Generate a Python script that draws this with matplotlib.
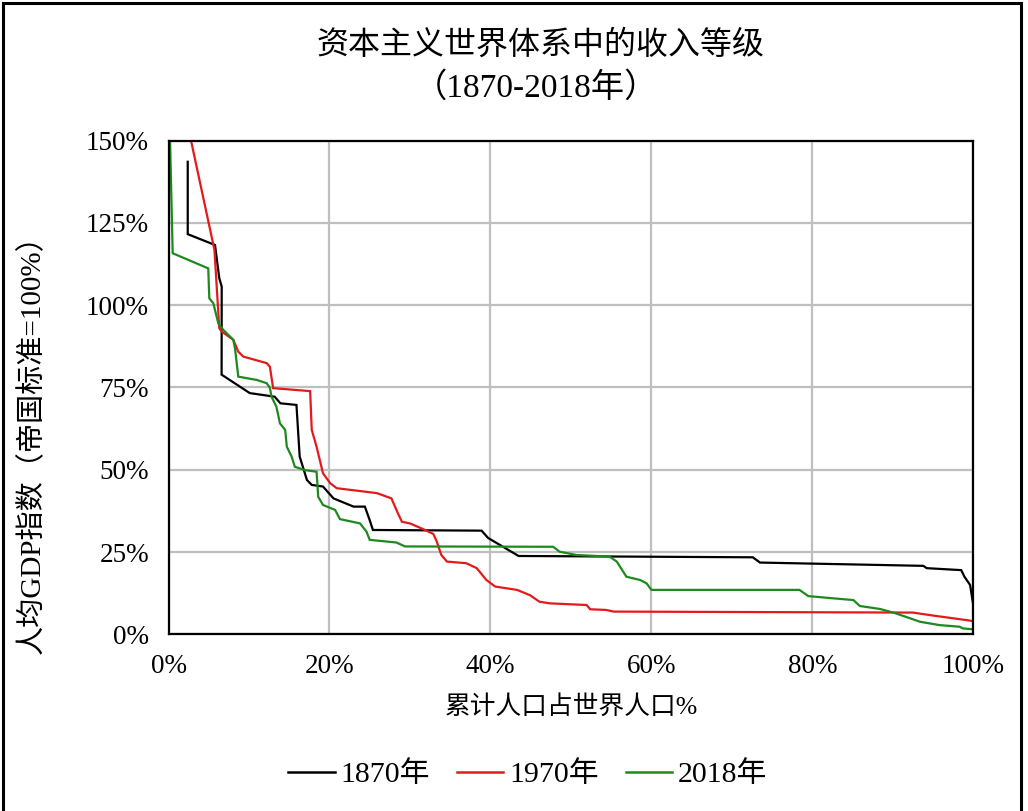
import matplotlib
matplotlib.use("Agg")
import matplotlib.pyplot as plt
from matplotlib.ticker import PercentFormatter, MultipleLocator
from matplotlib.patches import Rectangle
from matplotlib.lines import Line2D

plt.rcParams['font.family'] = ['Liberation Serif', 'Noto Sans CJK SC', 'DejaVu Sans']

title_line1 = "资本主义世界体系中的收入等级"
title_line2 = "（1870-2018年）"
xlabel = "累计人口占世界人口%"
ylabel = "人均GDP指数（帝国标准=100%）"
series_names = ["1870年", "1970年", "2018年"]
series_colors = ["#000000", "#e31a1c", "#1e8a1e"]

# cumulative population share (%) and per-capita GDP index (%)
x1870 = [2.39, 2.39, 5.78, 6.31, 6.61, 6.6, 10.1, 13.2, 13.9, 15.9, 16.3, 17.2, 17.8, 19.2,
         20.5, 23.0, 24.4, 25.0, 25.4, 38.9, 39.7, 40.8, 43.5, 72.6, 73.5, 93.8, 94.2,
         98.5, 98.9, 99.6, 100.0]
y1870 = [143.6, 121.6, 118.3, 108.2, 105.7, 78.9, 73.3, 72.2, 70.2, 69.7, 54.0, 46.9, 45.4, 44.9,
         41.3, 38.8, 38.8, 34.7, 31.7, 31.5, 29.3, 27.7, 23.8, 23.4, 21.8, 20.8, 20.1,
         19.5, 17.5, 15.0, 8.9]

x1970 = [0.0, 5.71, 6.31, 6.61, 8.05, 8.67, 9.29, 12.2, 12.6, 13.0, 17.6, 17.8, 18.4, 19.2,
         20.1, 20.9, 25.9, 27.7, 28.5, 29.0, 30.0, 31.7, 32.9, 33.3, 33.9, 34.6, 37.0, 38.3,
         39.5, 40.6, 43.3, 44.9, 46.1, 47.4, 51.95, 52.4, 54.4, 55.3, 92.5, 95.0, 99.2, 100.0]
y1970 = [182.0, 116.8, 93.0, 92.0, 89.5, 85.9, 84.4, 82.4, 81.3, 74.8, 73.9, 62.1, 57.0, 48.9,
         45.9, 44.4, 42.9, 41.3, 36.8, 34.2, 33.7, 31.9, 30.5, 28.4, 24.1, 22.1, 21.6, 20.1,
         16.5, 14.5, 13.5, 11.9, 9.9, 9.4, 8.9, 7.6, 7.4, 6.9, 6.6, 5.7, 4.3, 4.0]

x2018 = [0.05, 0.52, 4.94, 5.07, 5.57, 6.19, 6.81, 8.05, 8.26, 8.67, 10.96, 12.2, 12.6, 12.8,
         13.4, 13.85, 14.5, 14.7, 15.3, 15.7, 16.95, 18.4, 18.6, 19.2, 20.7, 21.3, 23.8, 24.6,
         25.0, 28.3, 29.4, 47.8, 48.6, 50.7, 54.8, 55.7, 56.9, 58.6, 59.4, 60.0, 78.4, 79.5,
         85.1, 85.9, 88.4, 90.2, 92.1, 93.4, 95.8, 98.3, 98.7, 100.0]
y2018 = [165.0, 115.8, 111.2, 102.1, 100.6, 94.5, 92.5, 89.5, 86.9, 78.3, 77.3, 76.3, 74.9, 72.2,
         69.2, 64.1, 62.1, 57.0, 54.0, 50.9, 49.9, 49.4, 41.8, 39.3, 37.8, 35.0, 33.7, 31.2,
         28.7, 27.9, 26.7, 26.6, 25.1, 24.1, 23.6, 22.1, 17.5, 16.5, 15.5, 13.5, 13.5, 11.6,
         10.4, 8.6, 7.7, 6.5, 4.9, 3.8, 2.8, 2.3, 1.8, 1.5]

W, H = 1028, 811
fig = plt.figure(figsize=(W / 100, H / 100), dpi=100)
fig.patch.set_facecolor("white")

L, R, T, B = 168.5, 973.3, 140.7, 634.3
ax = fig.add_axes([L / W, 1 - B / H, (R - L) / W, (B - T) / H])

for xs, ys, c, n in zip([x1870, x1970, x2018], [y1870, y1970, y2018], series_colors, series_names):
    ax.plot(xs, ys, color=c, lw=1.6, label=n, solid_joinstyle='miter')

ax.set_xlim(0, 100)
ax.set_ylim(0, 150)
ax.xaxis.set_major_locator(MultipleLocator(20))
ax.yaxis.set_major_locator(MultipleLocator(25))
ax.xaxis.set_major_formatter(PercentFormatter(xmax=100, decimals=0))
ax.yaxis.set_major_formatter(PercentFormatter(xmax=100, decimals=0))
ax.tick_params(length=0, labelsize=19.5, pad=14)
ax.grid(True, color="#bfbfbf", lw=1.6)
ax.set_axisbelow(True)
for s in ax.spines.values():
    s.set_color("black")
    s.set_linewidth(1.6)

fig.text(540 / W, 1 - 45 / H, title_line1, fontsize=23, ha="center", va="center")
fig.text(536 / W, 1 - 88 / H, title_line2, fontsize=24, ha="center", va="center")
fig.text(571 / W, 1 - 707 / H, xlabel, fontsize=18.5, ha="center", va="center")
fig.text(32 / W, 1 - 437 / H, ylabel, fontsize=21, ha="center", va="center", rotation=90)

handles = [Line2D([], [], color=c, lw=1.8) for c in series_colors]
fig.legend(handles, series_names, loc="center", bbox_to_anchor=(528 / W, 1 - 775 / H),
           ncol=3, frameon=False, fontsize=21.5, handlelength=1.55, handletextpad=0.2,
           columnspacing=0.9)

fig.add_artist(Rectangle((3 / W, -0.02), (1021 - 3) / W, 1 - 3 / H + 0.02,
                         transform=fig.transFigure, fill=False, edgecolor="black", lw=2.2))

fig.savefig("out.png", dpi=100)
